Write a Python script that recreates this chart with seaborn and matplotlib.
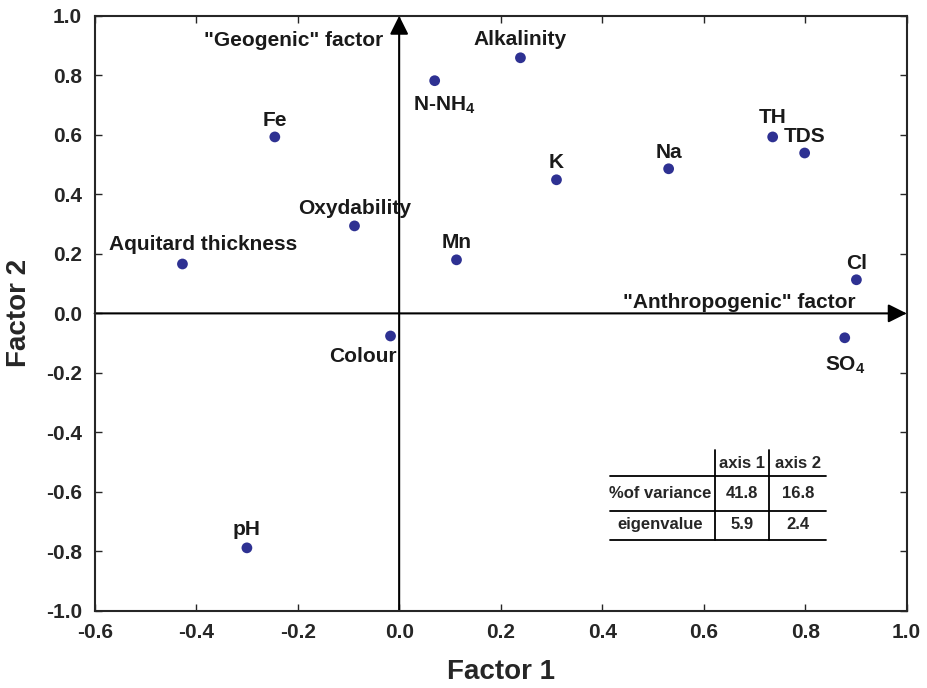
import matplotlib
matplotlib.use("Agg")
import matplotlib.pyplot as plt
import seaborn as sns
import pandas as pd
from matplotlib.lines import Line2D

# ---- data ----
variables = ["Alkalinity", "N-NH$_4$", "Fe", "TH", "TDS", "Na", "K", "Oxydability",
             "Aquitard thickness", "Mn", "Cl", "Colour", "SO$_4$", "pH"]
factor1 = [0.239, 0.070, -0.245, 0.736, 0.799, 0.531, 0.310, -0.088,
           -0.427, 0.113, 0.901, -0.017, 0.878, -0.300]
factor2 = [0.859, 0.782, 0.593, 0.593, 0.539, 0.486, 0.449, 0.294,
           0.166, 0.180, 0.113, -0.076, -0.082, -0.788]
xticks = [-0.6, -0.4, -0.2, 0.0, 0.2, 0.4, 0.6, 0.8, 1.0]
yticks = [-1.0, -0.8, -0.6, -0.4, -0.2, 0.0, 0.2, 0.4, 0.6, 0.8, 1.0]
table_cols = ["axis 1", "axis 2"]
table_rows = ["%of variance", "eigenvalue"]
table_vals = [["41.8", "16.8"], ["5.9", "2.4"]]

# label placement (offset in pixels, alignment) - styling only
label_style = {
    "Alkalinity": ((0, 18), "center"),
    "N-NH$_4$": ((10, -25), "center"),
    "Fe": ((0, 16), "center"),
    "TH": ((0, 19), "center"),
    "TDS": ((0, 16), "center"),
    "Na": ((0, 16), "center"),
    "K": ((0, 17), "center"),
    "Oxydability": ((0, 17), "center"),
    "Aquitard thickness": ((21, 19), "center"),
    "Mn": ((0, 17), "center"),
    "Cl": ((0, 16), "center"),
    "Colour": ((6, -21), "right"),
    "SO$_4$": ((0, -28), "center"),
    "pH": ((0, 18), "center"),
}

df = pd.DataFrame({"variable": variables, "Factor 1": factor1, "Factor 2": factor2})

sns.set_style("ticks")
plt.rcParams["font.family"] = ["Liberation Sans", "DejaVu Sans"]
plt.rcParams["font.weight"] = "bold"
plt.rcParams["mathtext.fontset"] = "custom"
plt.rcParams["mathtext.rm"] = "Liberation Sans:bold"
plt.rcParams["mathtext.bf"] = "Liberation Sans:bold"
plt.rcParams["mathtext.it"] = "Liberation Sans:bold"
plt.rcParams["mathtext.default"] = "bf"

fig = plt.figure(figsize=(9.28, 6.88), dpi=100)
ax = fig.add_axes([0.102, 0.112, 0.875, 0.865])

# factor arrows
ax.annotate("", xy=(0, 1.0), xytext=(0, -1.0),
            arrowprops=dict(arrowstyle="-|>", mutation_scale=28, lw=1.5,
                            color="black", shrinkA=0, shrinkB=0), zorder=1)
ax.annotate("", xy=(1.0, 0), xytext=(-0.6, 0),
            arrowprops=dict(arrowstyle="-|>", mutation_scale=28, lw=1.5,
                            color="black", shrinkA=0, shrinkB=0), zorder=1)

sns.scatterplot(data=df, x="Factor 1", y="Factor 2", ax=ax, color="#2e3192",
                s=60, edgecolor="none", zorder=3)

for name, x, y in zip(variables, factor1, factor2):
    off, ha = label_style[name]
    ax.annotate(name, (x, y), xytext=off, textcoords="offset pixels",
                ha=ha, va="center", fontsize=15, fontweight="bold", color="#1a1a1a")

ax.text(-0.031, 0.916, '"Geogenic" factor', ha="right", va="center",
        fontsize=15, fontweight="bold", color="#1a1a1a")
ax.text(0.671, 0.035, '"Anthropogenic" factor', ha="center", va="center",
        fontsize=15, fontweight="bold", color="#1a1a1a")

# table
tr = ax.transAxes
for yy in [0.227, 0.168, 0.119]:
    ax.add_line(Line2D([0.635, 0.901], [yy, yy], transform=tr, color="black", lw=1.3))
for xx in [0.764, 0.831]:
    ax.add_line(Line2D([xx, xx], [0.271, 0.119], transform=tr, color="black", lw=1.3))
col_x = [0.797, 0.866]
row_y = [0.197, 0.145]
for cx, c in zip(col_x, table_cols):
    ax.text(cx, 0.247, c, transform=tr, ha="center", va="center", fontsize=12, fontweight="bold")
for ry, r, vals in zip(row_y, table_rows, table_vals):
    ax.text(0.696, ry, r, transform=tr, ha="center", va="center", fontsize=12, fontweight="bold")
    for cx, v in zip(col_x, vals):
        ax.text(cx, ry, v, transform=tr, ha="center", va="center", fontsize=12, fontweight="bold")

ax.set_xlim(-0.6, 1.0)
ax.set_ylim(-1.0, 1.0)
ax.set_xticks(xticks)
ax.set_yticks(yticks)
ax.set_xticklabels([f"{v:.1f}" for v in xticks])
ax.set_yticklabels([f"{v:.1f}" for v in yticks])
ax.tick_params(direction="in", top=True, right=True, length=5, width=1,
               labelsize=15, pad=9)
for lab in ax.get_xticklabels() + ax.get_yticklabels():
    lab.set_fontweight("bold")
for sp in ax.spines.values():
    sp.set_linewidth(1.5)
    sp.set_visible(True)
ax.set_xlabel("Factor 1", fontsize=20, fontweight="bold", labelpad=12)
ax.set_ylabel("Factor 2", fontsize=20, fontweight="bold", labelpad=10)

fig.savefig("out.png", dpi=100)
